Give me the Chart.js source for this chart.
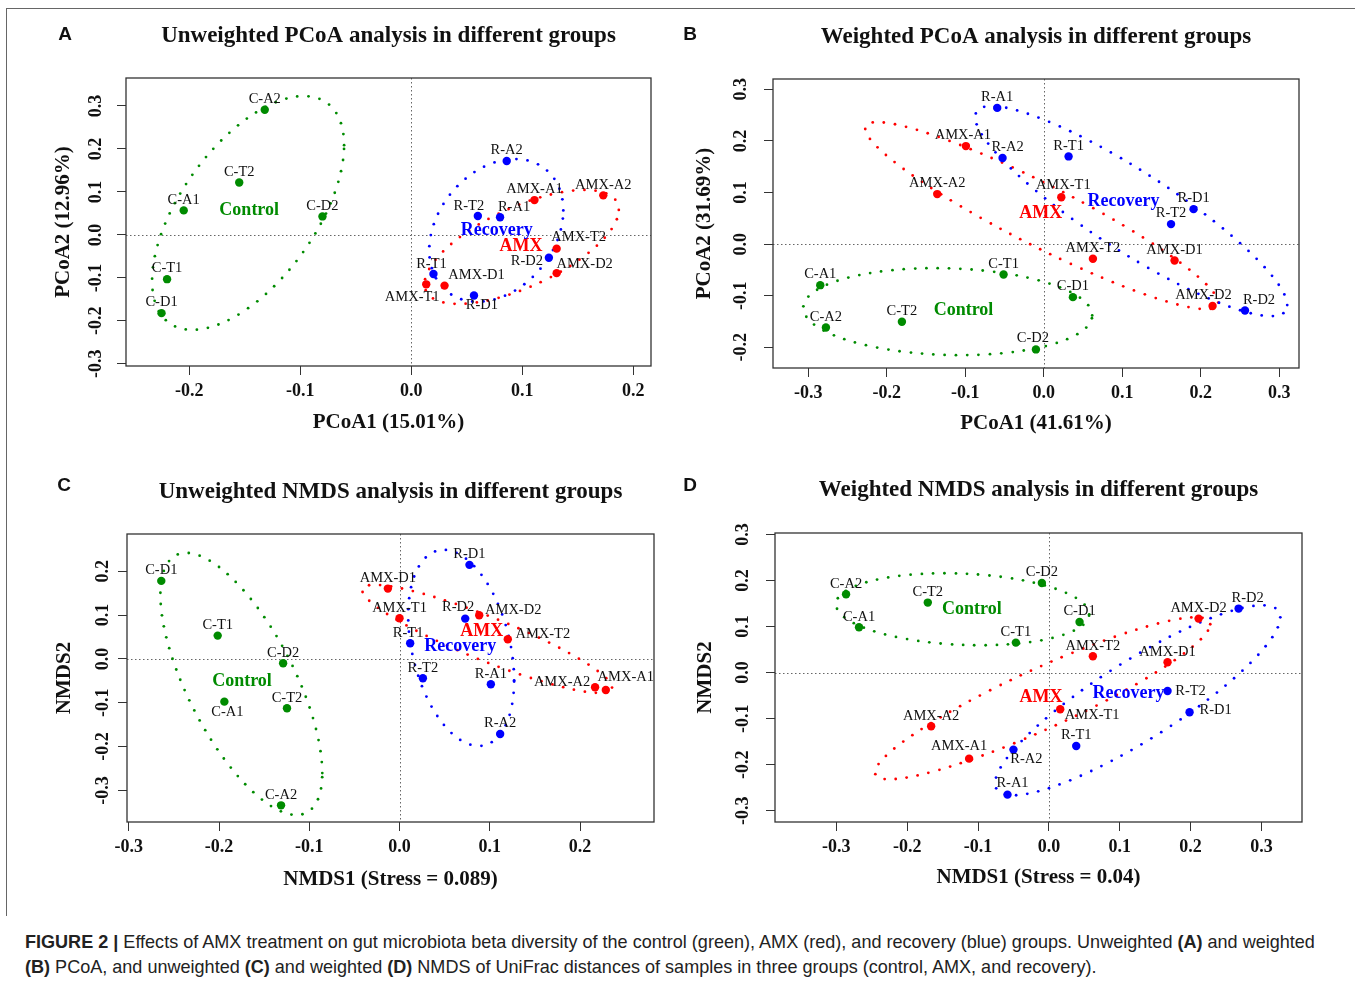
<!DOCTYPE html>
<html>
<head>
<meta charset="utf-8">
<script src="https://cdn.jsdelivr.net/npm/chart.js@4.4.1/dist/chart.umd.min.js"></script>
<style>
  body { margin: 0; background: #fff; width: 1355px; height: 984px; overflow: hidden; position: relative; }
  canvas { position: absolute; }
  #frame { position: absolute; left: 6px; top: 8px; width: 1400px; height: 907px; border-top: 1px solid #666; border-left: 1px solid #666; }
  #caption { position: absolute; left: 25px; top: 929px; font: 19px/25px "Liberation Sans", Arial, sans-serif; color: #222; white-space: nowrap; transform-origin: 0 0; transform: scaleX(0.95); }
</style>
</head>
<body>
<div id="frame"></div>
<canvas id="panelA" width="660" height="445" style="left:10px;top:10px"></canvas>
<canvas id="panelB" width="675" height="445" style="left:675px;top:10px"></canvas>
<canvas id="panelC" width="660" height="450" style="left:10px;top:460px"></canvas>
<canvas id="panelD" width="675" height="450" style="left:675px;top:460px"></canvas>
<div id="caption"><b>FIGURE 2 |</b> Effects of AMX treatment on gut microbiota beta diversity of the control (green), AMX (red), and recovery (blue) groups. Unweighted <b>(A)</b> and weighted<br><b>(B)</b> PCoA, and unweighted <b>(C)</b> and weighted <b>(D)</b> NMDS of UniFrac distances of samples in three groups (control, AMX, and recovery).</div>
<script>
// groups and samples (order: A1, A2, T1, T2, D1, D2 inside each group)
const groupNames = ['Control', 'AMX', 'Recovery'];
const samplePrefixes = ['C-', 'AMX-', 'R-'];
const sampleIds = ['A1', 'A2', 'T1', 'T2', 'D1', 'D2'];

// A: unweighted PCoA
const unwPcoaX = [-0.205, -0.132, -0.220, -0.155, -0.225, -0.080,
                  0.111, 0.173, 0.0135, 0.131, 0.030, 0.131,
                  0.080, 0.086, 0.020, 0.060, 0.0565, 0.124];
const unwPcoaY = [0.057, 0.291, -0.103, 0.122, -0.182, 0.043,
                  0.081, 0.092, -0.115, -0.032, -0.118, -0.089,
                  0.041, 0.172, -0.091, 0.044, -0.141, -0.053];
// ellipse per group: centre x, centre y, half width x, half height y, correlation
const unwPcoaEllipses = [[-0.147, 0.051, 0.0865, 0.272, 0.58],
                         [0.0995, -0.028, 0.0875, 0.1326, 0.65],
                         [0.0766, 0.0105, 0.0604, 0.166, 0.28]];
const unwPcoaXTicks = [-0.2, -0.1, 0, 0.1, 0.2];
const unwPcoaYTicks = [-0.3, -0.2, -0.1, 0, 0.1, 0.2, 0.3];

// B: weighted PCoA
const wPcoaX = [-0.2848, -0.2776, -0.0513, -0.1808, 0.037, -0.0101,
                -0.0993, -0.1358, 0.0222, 0.0625, 0.1665, 0.2149,
                -0.0594, -0.0526, 0.0315, 0.162, 0.1907, 0.2562];
const wPcoaY = [-0.0795, -0.1615, -0.0588, -0.1505, -0.1027, -0.204,
                0.190, 0.097, 0.091, -0.0284, -0.0317, -0.120,
                0.264, 0.167, 0.170, 0.0388, 0.0678, -0.1285];
const wPcoaEllipses = [[-0.1224, -0.1308, 0.184, 0.0843, -0.087],
                       [-0.0027, 0.0552, 0.2248, 0.1812, -0.93],
                       [0.1113, 0.064, 0.1987, 0.2035, -0.895]];
const wPcoaXTicks = [-0.3, -0.2, -0.1, 0, 0.1, 0.2, 0.3];
const wPcoaYTicks = [-0.2, -0.1, 0, 0.1, 0.2, 0.3];

// C: unweighted NMDS
const unwNmdsX = [-0.1941, -0.1313, -0.2015, -0.1247, -0.264, -0.129,
                  0.2286, 0.2167, 0.0, 0.120, -0.0129, 0.0883,
                  0.1012, 0.1115, 0.0118, 0.0259, 0.0775, 0.0728];
const unwNmdsY = [-0.0974, -0.334, 0.0532, -0.1126, 0.178, -0.0099,
                  -0.0708, -0.0646, 0.0929, 0.045, 0.1605, 0.0998,
                  -0.0578, -0.1712, 0.0358, -0.0441, 0.2146, 0.092];
const unwNmdsEllipses = [[-0.1753, -0.0571, 0.0897, 0.299, -0.68],
                         [0.0971, 0.0457, 0.1384, 0.1233, -0.9],
                         [0.0683, 0.0251, 0.0587, 0.2237, -0.33]];
const unwNmdsXTicks = [-0.3, -0.2, -0.1, 0, 0.1, 0.2];
const unwNmdsYTicks = [-0.3, -0.2, -0.1, 0, 0.1, 0.2];

// D: weighted NMDS
const wNmdsX = [-0.268, -0.2863, -0.0466, -0.1709, 0.0433, -0.0099,
                -0.1126, -0.1662, 0.016, 0.0621, 0.1675, 0.2113,
                -0.0584, -0.05, 0.0386, 0.1675, 0.1986, 0.2678];
const wNmdsY = [0.0984, 0.170, 0.0651, 0.152, 0.1099, 0.1946,
                -0.1868, -0.1166, -0.0797, 0.0354, 0.0224, 0.1172,
                -0.265, -0.1672, -0.1594, -0.040, -0.0862, 0.139];
const wNmdsEllipses = [[-0.1218, 0.1375, 0.1787, 0.0782, -0.14],
                       [-0.0088, -0.0558, 0.2366, 0.1759, 0.914],
                       [0.1254, -0.0602, 0.2013, 0.2063, 0.874]];
const wNmdsXTicks = [-0.3, -0.2, -0.1, 0, 0.1, 0.2, 0.3];
const wNmdsYTicks = [-0.3, -0.2, -0.1, 0, 0.1, 0.2, 0.3];

// styles
const groupColors = ['#008b00', '#ff0000', '#0000ff'];
const serif = '"Liberation Serif", "Times New Roman", serif';
const dotGap = 11;

// label placement, pixels from the point (default is centred just above)
const panels = [
  {
    id: 'panelA', letter: 'A', canvas: [10, 10, 660, 445], area: [126, 78, 651, 366],
    title: 'Unweighted PCoA analysis in different groups', xTitle: 'PCoA1 (15.01%)', yTitle: 'PCoA2 (12.96%)',
    xs: unwPcoaX, ys: unwPcoaY, ellipses: unwPcoaEllipses, xTicks: unwPcoaXTicks, yTicks: unwPcoaYTicks,
    xRange: [-0.257, 0.216], yRange: [-0.305, 0.365],
    groupLabelAt: [[-0.146, 0.056], [0.0988, -0.027], [0.077, 0.0116]],
    offsets: { 'R-T2': [-9, -10], 'R-A1': [14, -10], 'AMX-T2': [22, -11], 'R-D2': [-22, 4], 'AMX-D2': [28, -9],
               'R-T1': [-2, -10], 'AMX-D1': [32, -10], 'AMX-T1': [-14, 13], 'R-D1': [8, 10] },
    letterAt: [65, 35], titleOff: 42, xTitleOff: 57, yTitleOff: 62, yTickOff: 30
  },
  {
    id: 'panelB', letter: 'B', canvas: [675, 10, 675, 445], area: [773, 79, 1299, 368],
    title: 'Weighted PCoA analysis in different groups', xTitle: 'PCoA1 (41.61%)', yTitle: 'PCoA2 (31.69%)',
    xs: wPcoaX, ys: wPcoaY, ellipses: wPcoaEllipses, xTicks: wPcoaXTicks, yTicks: wPcoaYTicks,
    xRange: [-0.345, 0.325], yRange: [-0.240, 0.320],
    groupLabelAt: [[-0.1023, -0.128], [-0.004, 0.0595], [0.1015, 0.0839]],
    offsets: { 'AMX-A1': [-3, -11], 'R-A2': [5, -11], 'C-D2': [-3, -11], 'AMX-T1': [2, -12], 'AMX-D2': [-9, -11], 'R-D2': [14, -10] },
    letterAt: [690, 35], titleOff: 42, xTitleOff: 56, yTitleOff: 68, yTickOff: 32
  },
  {
    id: 'panelC', letter: 'C', canvas: [10, 460, 660, 450], area: [127, 534, 654, 822],
    title: 'Unweighted NMDS analysis in different groups', xTitle: 'NMDS1 (Stress = 0.089)', yTitle: 'NMDS2',
    xs: unwNmdsX, ys: unwNmdsY, ellipses: unwNmdsEllipses, xTicks: unwNmdsXTicks, yTicks: unwNmdsYTicks,
    xRange: [-0.302, 0.282], yRange: [-0.372, 0.285],
    groupLabelAt: [[-0.1746, -0.0518], [0.0912, 0.0623], [0.0672, 0.0297]],
    offsets: { 'C-A1': [3, 11], 'R-D2': [-7, -11], 'AMX-D2': [34, -5], 'R-T1': [-2, -10], 'AMX-T2': [35, -5],
               'AMX-A2': [-33, -5], 'AMX-A1': [20, -13] },
    letterAt: [64, 486], titleOff: 42, xTitleOff: 58, yTitleOff: 62, yTickOff: 24
  },
  {
    id: 'panelD', letter: 'D', canvas: [675, 460, 675, 450], area: [775, 533, 1302, 822],
    title: 'Weighted NMDS analysis in different groups', xTitle: 'NMDS1 (Stress = 0.04)', yTitle: 'NMDS2',
    xs: wNmdsX, ys: wNmdsY, ellipses: wNmdsEllipses, xTicks: wNmdsXTicks, yTicks: wNmdsYTicks,
    xRange: [-0.3866, 0.3573], yRange: [-0.3244, 0.3031],
    groupLabelAt: [[-0.1088, 0.1368], [-0.011, -0.053], [0.1124, -0.0443]],
    offsets: { 'AMX-A1': [-10, -12], 'R-A2': [13, 10], 'R-A1': [5, -11], 'R-D2': [9, -10], 'R-T2': [23, 0],
               'R-D1': [26, -2], 'AMX-T1': [32, 6] },
    letterAt: [690, 486], titleOff: 43, xTitleOff: 56, yTitleOff: 69, yTickOff: 32
  }
];

const tickLen = 9;

function fmt(v) {
  return (Math.abs(v) < 1e-9 ? 0 : v).toFixed(1);
}

function panelPlugin(p) {
  return {
    id: 'deco' + p.letter,
    beforeDatasetsDraw(chart) {
      const { ctx, chartArea: a, scales: { x, y } } = chart;
      ctx.save();
      // dotted zero lines
      ctx.strokeStyle = '#666';
      ctx.lineWidth = 1;
      ctx.setLineDash([1.5, 2.5]);
      const x0 = Math.round(x.getPixelForValue(0)) + 0.5;
      const y0 = Math.round(y.getPixelForValue(0)) + 0.5;
      ctx.beginPath();
      ctx.moveTo(a.left, y0); ctx.lineTo(a.right, y0);
      ctx.moveTo(x0, a.top); ctx.lineTo(x0, a.bottom);
      ctx.stroke();
      ctx.setLineDash([]);
      // dotted ellipses
      p.ellipses.forEach((e, g) => {
        const [cx, cy, rx, ry, rho] = e;
        const k = Math.sqrt(1 - rho * rho);
        ctx.fillStyle = groupColors[g];
        let prev = null, acc = 0;
        const n = 1440;
        for (let i = 0; i < n; i++) {
          const t = i / n * 2 * Math.PI;
          const px = x.getPixelForValue(cx + rx * Math.cos(t));
          const py = y.getPixelForValue(cy + ry * (rho * Math.cos(t) + k * Math.sin(t)));
          if (prev) acc += Math.hypot(px - prev[0], py - prev[1]);
          if (!prev || acc >= dotGap) {
            ctx.beginPath();
            ctx.arc(px, py, 1.4, 0, 2 * Math.PI);
            ctx.fill();
            acc = 0;
          }
          prev = [px, py];
        }
      });
      ctx.restore();
    },
    afterDatasetsDraw(chart) {
      const { ctx, scales: { x, y } } = chart;
      ctx.save();
      ctx.textAlign = 'center';
      ctx.textBaseline = 'middle';
      // sample labels
      ctx.font = '14.5px ' + serif;
      ctx.fillStyle = '#111';
      p.xs.forEach((v, i) => {
        const name = samplePrefixes[Math.floor(i / 6)] + sampleIds[i % 6];
        const off = p.offsets[name] || [0, -10.5];
        ctx.fillText(name, x.getPixelForValue(v) + off[0], y.getPixelForValue(p.ys[i]) + off[1]);
      });
      // group labels
      ctx.font = 'bold 18px ' + serif;
      p.groupLabelAt.forEach((q, g) => {
        ctx.fillStyle = groupColors[g];
        ctx.fillText(groupNames[g], x.getPixelForValue(q[0]), y.getPixelForValue(q[1]));
      });
      ctx.restore();
    },
    afterDraw(chart) {
      const { ctx, chartArea: a, scales: { x, y } } = chart;
      ctx.save();
      ctx.strokeStyle = '#333';
      ctx.lineWidth = 1.3;
      ctx.strokeRect(a.left, a.top, a.right - a.left, a.bottom - a.top);
      ctx.fillStyle = '#111';
      ctx.textAlign = 'center';
      ctx.textBaseline = 'middle';
      ctx.font = 'bold 18px ' + serif;
      p.xTicks.forEach(v => ctx.fillText(fmt(v), x.getPixelForValue(v), a.bottom + 25));
      p.yTicks.forEach(v => {
        ctx.save();
        ctx.translate(a.left - p.yTickOff, y.getPixelForValue(v));
        ctx.rotate(-Math.PI / 2);
        ctx.fillText(fmt(v), 0, 0);
        ctx.restore();
      });
      const mx = (a.left + a.right) / 2, my = (a.top + a.bottom) / 2;
      ctx.font = 'bold 21px ' + serif;
      ctx.fillText(p.xTitle, mx, a.bottom + p.xTitleOff);
      ctx.save();
      ctx.translate(a.left - p.yTitleOff, my);
      ctx.rotate(-Math.PI / 2);
      ctx.fillText(p.yTitle, 0, 0);
      ctx.restore();
      ctx.font = 'bold 23px ' + serif;
      ctx.fillText(p.title, mx, a.top - p.titleOff);
      ctx.font = 'bold 19px "Liberation Sans", Arial, sans-serif';
      ctx.fillText(p.letter, p.letterAt[0] - p.canvas[0], p.letterAt[1] - p.canvas[1]);
      ctx.restore();
    }
  };
}

panels.forEach(p => {
  const [cl, ct, cw, ch] = p.canvas;
  const [L, T, R, B] = p.area;
  const datasets = groupNames.map((g, gi) => ({
    label: g,
    data: p.xs.slice(gi * 6, gi * 6 + 6).map((v, i) => ({ x: v, y: p.ys[gi * 6 + i] })),
    backgroundColor: groupColors[gi],
    borderWidth: 0,
    pointRadius: 4.2,
    pointHoverRadius: 4.2
  }));
  const axis = (range, ticks, size) => ({
    type: 'linear',
    min: range[0],
    max: range[1],
    afterBuildTicks: s => { s.ticks = ticks.map(v => ({ value: v })); },
    afterFit: s => { if (s.isHorizontal()) s.height = size; else s.width = size; },
    ticks: { display: false },
    grid: { drawOnChartArea: false, drawTicks: true, tickLength: tickLen, color: '#333', lineWidth: 1 },
    border: { display: false }
  });
  new Chart(document.getElementById(p.id), {
    type: 'scatter',
    data: { datasets },
    options: {
      responsive: false,
      animation: false,
      devicePixelRatio: 1,
      layout: { padding: { left: L - cl - tickLen, top: T - ct, right: cl + cw - R, bottom: ct + ch - B - tickLen } },
      plugins: { legend: { display: false }, tooltip: { enabled: false } },
      scales: {
        x: axis(p.xRange, p.xTicks, tickLen),
        y: axis(p.yRange, p.yTicks, tickLen)
      }
    },
    plugins: [panelPlugin(p)]
  });
});
</script>
</body>
</html>
